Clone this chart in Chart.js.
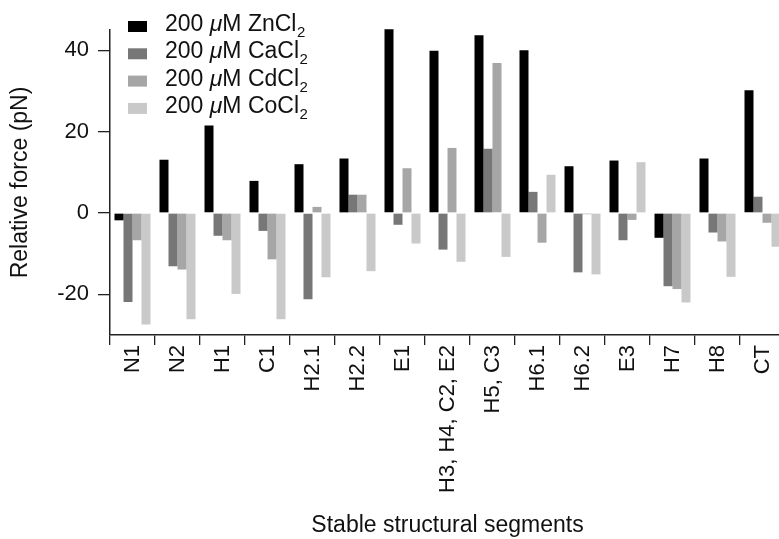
<!DOCTYPE html>
<html>
<head>
<meta charset="utf-8">
<script src="https://cdn.jsdelivr.net/npm/chart.js@4.4.1/dist/chart.umd.min.js"></script>
<style>
  html, body { margin: 0; padding: 0; background: #fff; overflow: hidden; }
  #wrap { width: 800px; height: 539px; }
</style>
</head>
<body>
<div id="wrap"><canvas id="myChart" width="800" height="539"></canvas></div>
<script>
const segments = ["N1", "N2", "H1", "C1", "H2.1", "H2.2", "E1", "H3, H4, C2, E2",
  "H5, C3", "H6.1", "H6.2", "E3", "H7", "H8", "CT"];
const zincValues = [-1.8, 13.1, 21.5, 7.9, 12.0, 13.4, 45.2, 39.9, 43.7, 40.0, 11.5, 12.9, -6.1, 13.4, 30.2];
const calciumValues = [-21.9, -13.1, -5.6, -4.4, -21.2, 4.5, -2.9, -9.0, 15.8, 5.2, -14.6, -6.7, -18.0, -4.8, 4.0];
const cadmiumValues = [-6.7, -13.9, -6.7, -11.4, 1.5, 4.5, 11.0, 16.0, 36.9, -7.3, -0.3, -1.7, -18.7, -7.0, -2.4];
const cobaltValues = [-27.4, -26.1, -19.9, -26.1, -15.8, -14.3, -7.5, -12.0, -10.8, 9.4, -15.1, 12.5, -22.0, -15.7, -8.3];
const seriesNames = ["Zn", "Ca", "Cd", "Co"];
const yTicks = [-20, 0, 20, 40];

const FONT = "'Liberation Sans', Arial, Helvetica, sans-serif";
const colors = ["#000000", "#777777", "#a6a6a6", "#c9c9c9"];

// legend drawn by hand so the mu can be italic and the 2 a subscript
const legendPlugin = {
  id: "metalLegend",
  afterDraw(chart) {
    const c = chart.ctx;
    c.save();
    seriesNames.forEach((name, i) => {
      const base = 31 + i * 27.3;
      c.fillStyle = colors[i];
      c.fillRect(128, base - 10, 19, 11);
      c.fillStyle = "#111";
      c.textBaseline = "alphabetic";
      c.textAlign = "left";
      let x = 165;
      c.font = "23px " + FONT;
      c.fillText("200 ", x, base);
      x += c.measureText("200 ").width;
      c.font = "italic 23px " + FONT;
      c.fillText("\u03bc", x, base);
      x += c.measureText("\u03bc").width;
      c.font = "23px " + FONT;
      const rest = "M " + name + "Cl";
      c.fillText(rest, x, base);
      x += c.measureText(rest).width;
      c.font = "15px " + FONT;
      c.fillText("2", x + 0.5, base + 6);
    });
    c.restore();
  },
};

const ctx = document.getElementById("myChart").getContext("2d");

const data = {
  labels: segments,
  datasets: [zincValues, calciumValues, cadmiumValues, cobaltValues].map((vals, i) => ({
    label: "200 \u03bcM " + seriesNames[i] + "Cl\u2082",
    data: vals,
    backgroundColor: colors[i],
    borderWidth: 0,
    categoryPercentage: 0.8,
    barPercentage: 1.0,
    clip: false,
  })),
};

const config = {
  type: "bar",
  data: data,
  plugins: [legendPlugin],
  options: {
    responsive: false,
    animation: false,
    layout: { padding: { top: 30, right: 15, left: 0, bottom: 0 } },
    plugins: {
      legend: { display: false },
      tooltip: { enabled: false },
    },
    scales: {
      x: {
        grid: {
          offset: true,
          drawOnChartArea: false,
          tickLength: 10,
          color: "#222",
          lineWidth: 1.3,
        },
        border: { color: "#222", width: 1.5 },
        ticks: {
          autoSkip: false,
          minRotation: 90,
          maxRotation: 90,
          padding: 0,
          color: "#111",
          font: { family: FONT, size: 22 },
        },
        title: {
          display: true,
          text: "Stable structural segments",
          color: "#111",
          font: { family: FONT, size: 23 },
          padding: { top: 0, bottom: 0 },
        },
        afterFit(scale) { scale.height = 204; },
      },
      y: {
        min: -30,
        max: 45,
        afterBuildTicks(scale) { scale.ticks = yTicks.map((v) => ({ value: v })); },
        grid: {
          drawOnChartArea: false,
          tickLength: 12,
          color: "#222",
          lineWidth: 1.3,
        },
        border: { color: "#222", width: 1.5 },
        ticks: {
          padding: 9,
          color: "#111",
          font: { family: FONT, size: 22 },
        },
        title: {
          display: true,
          text: "Relative force (pN)",
          color: "#111",
          font: { family: FONT, size: 23 },
          padding: { top: 7, bottom: 0 },
        },
        afterFit(scale) { scale.width = 110; },
      },
    },
  },
};

const myChart = new Chart(ctx, config);
</script>
</body>
</html>
